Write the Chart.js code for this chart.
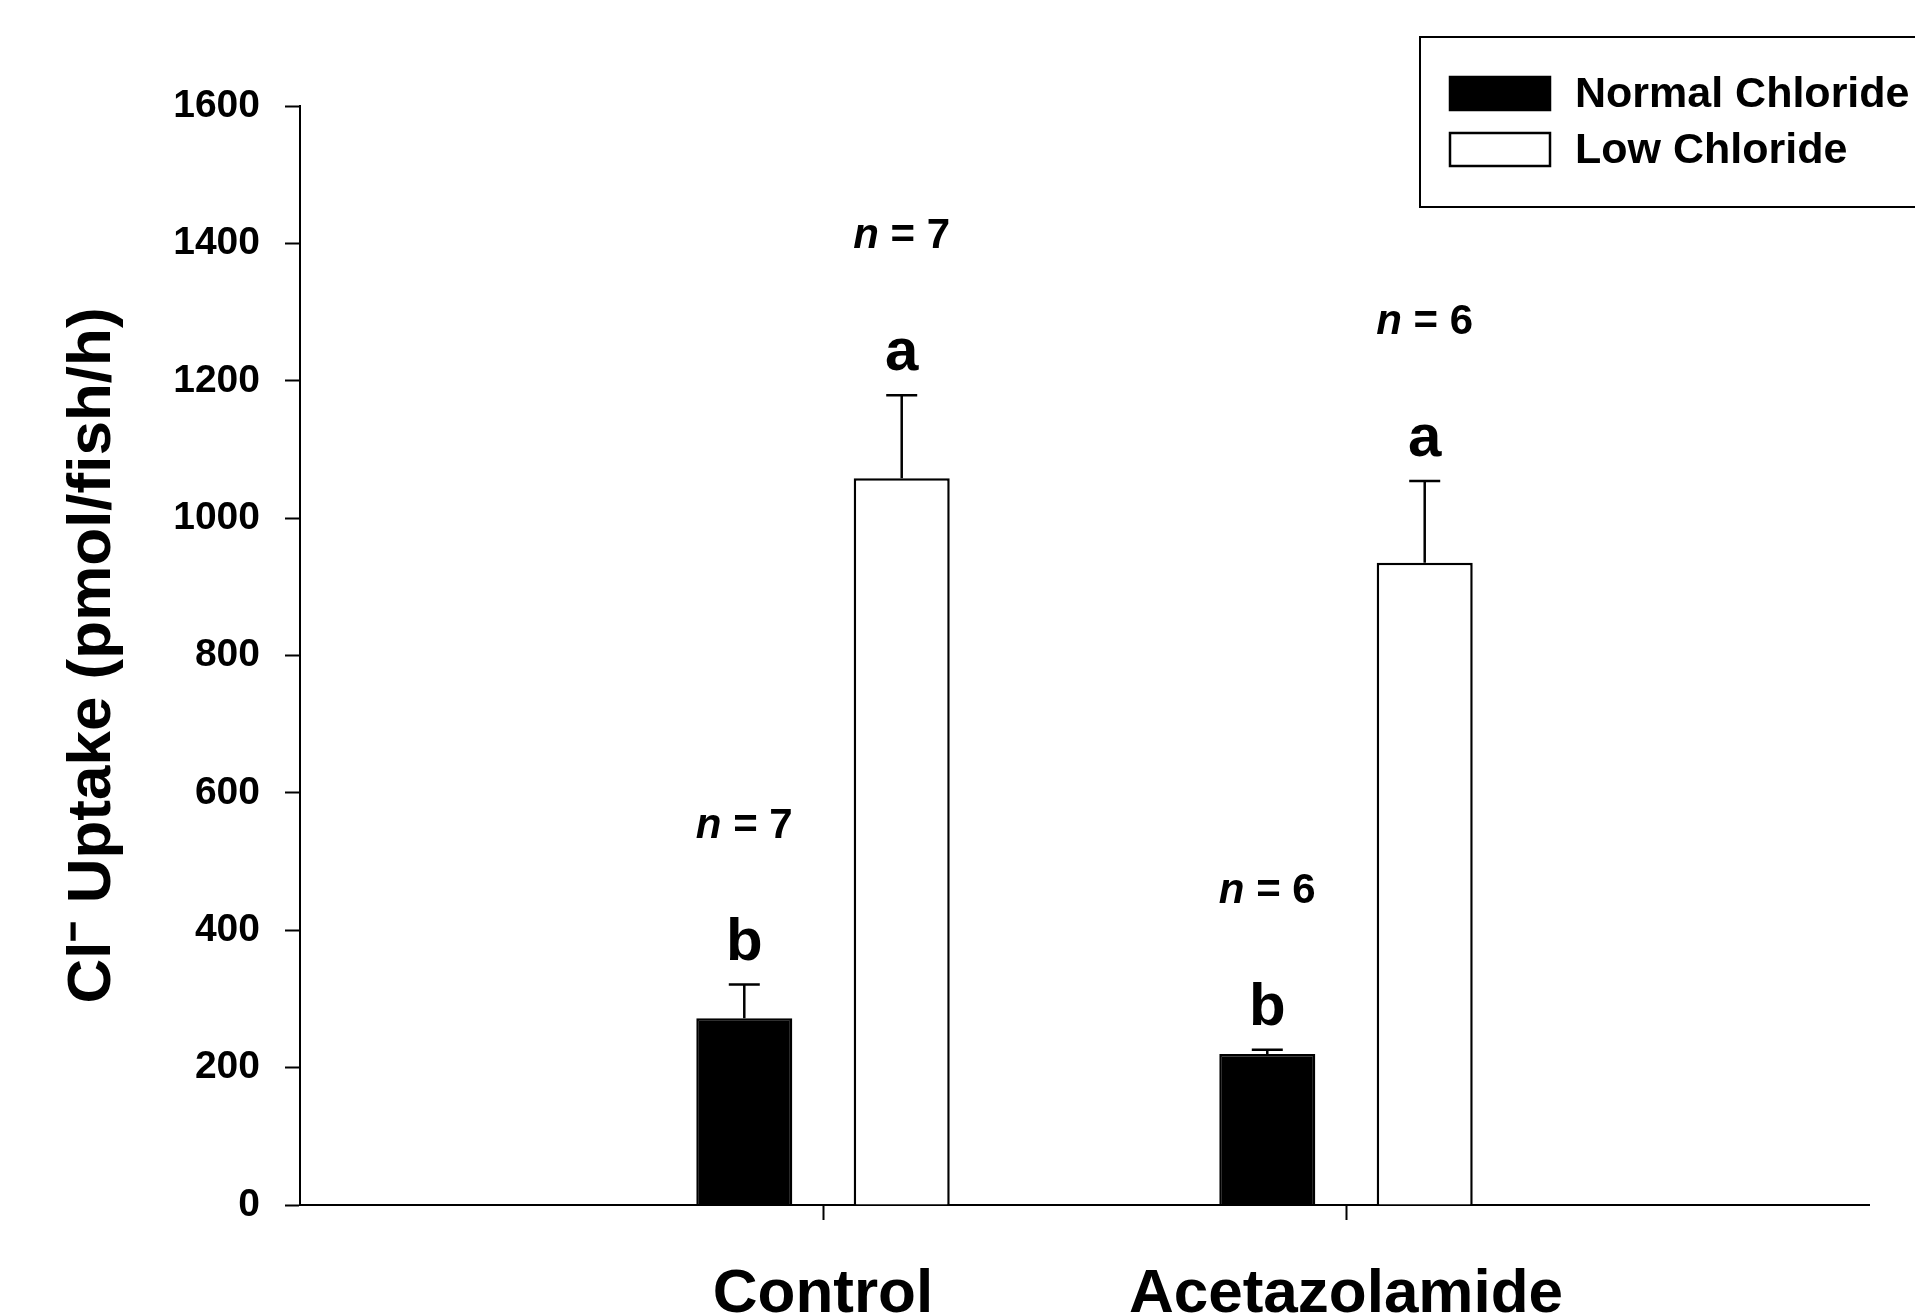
<!DOCTYPE html>
<html>
<head>
<meta charset="utf-8">
<script src="https://cdn.jsdelivr.net/npm/chart.js@4"></script>
<style>
  html, body { margin: 0; padding: 0; background: #fff; }
  #wrap { width: 1915px; height: 1314px; }
</style>
</head>
<body>
<div id="wrap"><canvas id="myChart"></canvas></div>
<script>
const categories = ['Control', 'Acetazolamide'];
const normalChloride = [272, 220];
const normalErr = [49, 6];
const lowChloride = [1058, 935];
const lowErr = [121, 119];
const normalLetters = ['b', 'b'];
const lowLetters = ['a', 'a'];
const normalN = [7, 6];
const lowN = [7, 6];
const yTicks = [0, 200, 400, 600, 800, 1000, 1200, 1400, 1600];

const FONT = '"Liberation Sans", Arial, sans-serif';

// empty slots at both ends so the groups sit at 1/3 and 2/3 of the axis
const labels = [''].concat(categories, ['']);
const pad = arr => [null].concat(arr, [null]);

const errors = [pad(normalErr), pad(lowErr)];
const letters = [pad(normalLetters), pad(lowLetters)];
const nums = [pad(normalN), pad(lowN)];

const errorBars = {
    id: 'errorBars',
    afterDatasetsDraw(chart) {
        const ctx = chart.ctx;
        const y = chart.scales.y;
        ctx.save();
        chart.data.datasets.forEach((ds, di) => {
            const meta = chart.getDatasetMeta(di);
            meta.data.forEach((bar, i) => {
                const v = ds.data[i];
                if (v == null) return;
                const top = y.getPixelForValue(v);
                const errTop = y.getPixelForValue(v + errors[di][i]);
                ctx.strokeStyle = '#000';
                ctx.lineWidth = 2.5;
                ctx.beginPath();
                ctx.moveTo(bar.x, top);
                ctx.lineTo(bar.x, errTop);
                ctx.moveTo(bar.x - 15.5, errTop);
                ctx.lineTo(bar.x + 15.5, errTop);
                ctx.stroke();

                ctx.fillStyle = '#000';
                ctx.textBaseline = 'alphabetic';
                ctx.textAlign = 'center';
                ctx.font = 'bold 60px ' + FONT;
                ctx.fillText(letters[di][i], bar.x, errTop - 25);

                // "n = 7" with italic n
                const rest = ' = ' + nums[di][i];
                ctx.font = 'italic bold 42px ' + FONT;
                const wn = ctx.measureText('n').width;
                ctx.font = 'bold 42px ' + FONT;
                const wr = ctx.measureText(rest).width;
                const x0 = bar.x - (wn + wr) / 2;
                ctx.textAlign = 'left';
                ctx.font = 'italic bold 42px ' + FONT;
                ctx.fillText('n', x0, errTop - 147);
                ctx.font = 'bold 42px ' + FONT;
                ctx.fillText(rest, x0 + wn, errTop - 147);
            });
        });
        ctx.restore();
    }
};

const boxLegend = {
    id: 'boxLegend',
    afterDraw(chart) {
        const ctx = chart.ctx;
        ctx.save();
        ctx.strokeStyle = '#000';
        ctx.lineWidth = 2;
        ctx.strokeRect(1420, 37, 600, 170);
        chart.data.datasets.forEach((ds, i) => {
            const top = 77 + i * 56;
            ctx.fillStyle = ds.backgroundColor;
            ctx.fillRect(1450, top, 100, 33);
            ctx.lineWidth = 2.5;
            ctx.strokeRect(1450, top, 100, 33);
            ctx.fillStyle = '#000';
            ctx.font = 'bold 43px ' + FONT;
            ctx.textAlign = 'left';
            ctx.textBaseline = 'middle';
            ctx.fillText(ds.label, 1575, top + 18);
        });
        ctx.restore();
    }
};

const ctx = document.getElementById('myChart').getContext('2d');

new Chart(ctx, {
    type: 'bar',
    data: {
        labels: labels,
        datasets: [{
            label: 'Normal Chloride',
            data: pad(normalChloride),
            backgroundColor: '#000',
            borderColor: '#000',
            borderWidth: 2.5
        }, {
            label: 'Low Chloride',
            data: pad(lowChloride),
            backgroundColor: '#fff',
            borderColor: '#000',
            borderWidth: 2.5
        }]
    },
    options: {
        responsive: true,
        maintainAspectRatio: false,
        animation: false,
        categoryPercentage: 0.602,
        barPercentage: 0.61,
        layout: {
            padding: { top: 106, right: 46, left: 0, bottom: 0 }
        },
        plugins: {
            legend: { display: false },
            tooltip: { enabled: false }
        },
        scales: {
            x: {
                offset: false,
                grid: {
                    display: true,
                    offset: false,
                    drawOnChartArea: false,
                    tickLength: 15,
                    tickWidth: 2,
                    tickColor: c => (c.index === 1 || c.index === 2) ? '#000' : 'rgba(0,0,0,0)'
                },
                border: { color: '#000', width: 2 },
                ticks: {
                    color: '#000',
                    padding: 38,
                    maxRotation: 0,
                    autoSkip: false,
                    font: { family: FONT, size: 62, weight: 'bold' }
                },
                afterFit: s => { s.height = 109; }
            },
            y: {
                min: 0,
                max: 1600,
                afterBuildTicks: s => { s.ticks = yTicks.map(v => ({ value: v })); },
                grid: {
                    display: true,
                    drawOnChartArea: false,
                    tickLength: 15,
                    tickWidth: 2,
                    tickColor: '#000'
                },
                border: { color: '#000', width: 2 },
                ticks: {
                    color: '#000',
                    padding: 25,
                    callback: v => String(v),
                    font: { family: FONT, size: 39, weight: 'bold' }
                },
                title: {
                    display: true,
                    text: 'Cl\u207B Uptake (pmol/fish/h)',
                    color: '#000',
                    padding: { top: 56, bottom: 0 },
                    font: { family: FONT, size: 62, weight: 'bold', lineHeight: 1.2 }
                },
                afterFit: s => { s.width = 300; }
            }
        }
    },
    plugins: [errorBars, boxLegend]
});
</script>
</body>
</html>
